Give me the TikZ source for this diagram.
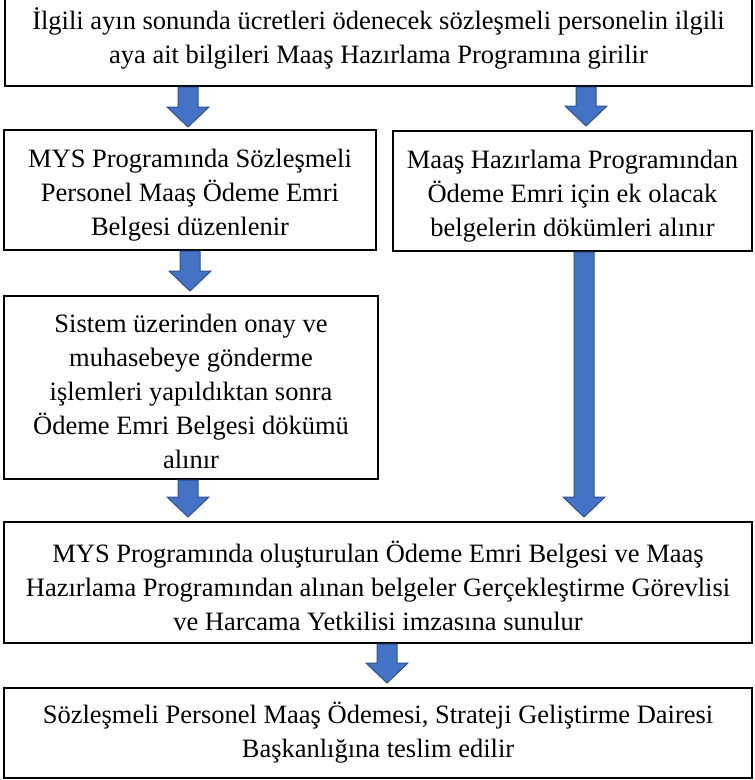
\documentclass[tikz,border=0pt]{standalone}
\usepackage{fontspec}
\setmainfont{Liberation Serif}
\usetikzlibrary{calc}
\definecolor{arrfill}{HTML}{4472C4}
\definecolor{arrline}{HTML}{2F528F}
\tikzset{
  box/.style={draw=black, line width=2pt, align=center, inner sep=0pt,
    font=\fontsize{26.5}{34}\selectfont},
  txt/.style={align=center, inner sep=0pt, font=\fontsize{26.5}{34}\selectfont},
  barrow/.style={fill=arrfill, draw=arrline, line width=1pt, line join=miter}
}
\newcommand\blockarr[2]{%
  \draw[barrow] let \p1=(#1), \p2=(#2) in
    (\x1-10pt,\y1) -- (\x1+10pt,\y1) -- (\x1+10pt,\y2+20pt) -- (\x1+21pt,\y2+20pt)
    -- (\x1,\y2) -- (\x1-21pt,\y2+20pt) -- (\x1-10pt,\y2+20pt) -- cycle;}
\begin{document}
\begin{tikzpicture}[x=1pt,y=-1pt]
\useasboundingbox (0,0) rectangle (755,780);
\node[box, minimum width=747pt, minimum height=96pt] (b1) at (378.5,38)
  {İlgili ayın sonunda ücretleri ödenecek sözleşmeli personelin ilgili\\aya ait bilgileri Maaş Hazırlama Programına girilir};
\node[box, minimum width=372pt, minimum height=120pt] (b2) at (190,190) {};
\node[txt] (t2) at ([yshift=-5pt]b2.center)
  {MYS Programında Sözleşmeli\\Personel Maaş Ödeme Emri\\Belgesi düzenlenir};
\node[box, minimum width=359pt, minimum height=120pt] (b3) at (572.5,191) {};
\node[txt] (t3) at ([yshift=-5pt]b3.center)
  {Maaş Hazırlama Programından\\Ödeme Emri için ek olacak\\belgelerin dökümleri alınır};
\node[box, minimum width=374pt, minimum height=183pt] (b4) at (191,387.5) {};
\node[txt] (t4) at ([yshift=-4pt]b4.center)
  {Sistem üzerinden onay ve\\muhasebeye gönderme\\işlemleri yapıldıktan sonra\\Ödeme Emri Belgesi dökümü\\alınır};
\node[box, minimum width=748pt, minimum height=121pt] (b5) at (378,582.5) {};
\node[txt] (t5) at ([yshift=-3pt]b5.center)
  {MYS Programında oluşturulan Ödeme Emri Belgesi ve Maaş\\Hazırlama Programından alınan belgeler Gerçekleştirme Görevlisi\\ve Harcama Yetkilisi imzasına sunulur};
\node[box, minimum width=748pt, minimum height=90pt] (b6) at (378,733)
  {Sözleşmeli Personel Maaş Ödemesi, Strateji Geliştirme Dairesi\\Başkanlığına teslim edilir};
\coordinate (a1s) at (188,0 |- b1.south);
\coordinate (a1e) at ([yshift=2pt]188,0 |- b2.north);
\coordinate (a2s) at (586,0 |- b1.south);
\coordinate (a2e) at ([yshift=4pt]586,0 |- b3.north);
\coordinate (a3s) at (190,0 |- b2.south);
\coordinate (a3e) at ([yshift=4pt]190,0 |- b4.north);
\coordinate (a4s) at (584,0 |- b3.south);
\coordinate (a4e) at ([yshift=4pt]584,0 |- b5.north);
\coordinate (a5s) at (188,0 |- b4.south);
\coordinate (a5e) at ([yshift=4pt]188,0 |- b5.north);
\coordinate (a6s) at (387,0 |- b5.south);
\coordinate (a6e) at ([yshift=4pt]387,0 |- b6.north);
\blockarr{a1s}{a1e}
\blockarr{a2s}{a2e}
\blockarr{a3s}{a3e}
\blockarr{a4s}{a4e}
\blockarr{a5s}{a5e}
\blockarr{a6s}{a6e}
\end{tikzpicture}
\end{document}
